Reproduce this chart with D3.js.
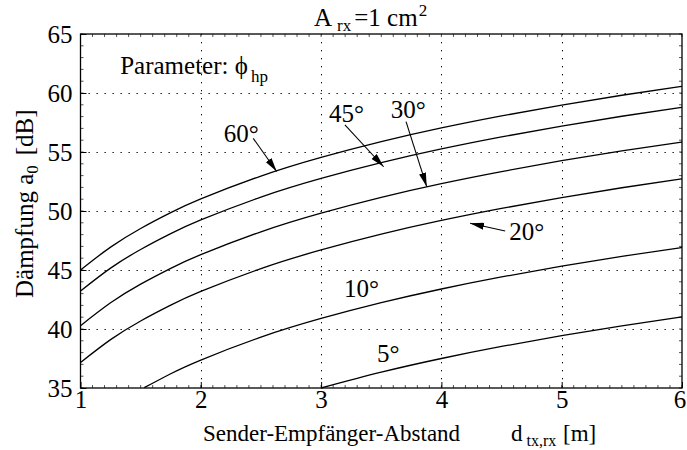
<!DOCTYPE html>
<html>
<head>
<meta charset="utf-8">
<script src="https://cdn.jsdelivr.net/npm/d3@7"></script>
<style>
  html, body { margin: 0; padding: 0; background: #fff; }
  svg text { font-family: "Liberation Serif", "Times New Roman", "DejaVu Serif", serif; }
</style>
</head>
<body>
<svg id="chart" width="687" height="450"></svg>
<script>
// Distance grid (m) shared by the upper four curves
const dist = [1, 1.25, 1.5, 1.75, 2, 2.5, 3, 3.5, 4, 4.5, 5, 5.5, 6];
// Attenuation a0 (dB) for each half-power angle
const a60 = [45.00, 46.94, 48.52, 49.86, 51.02, 52.96, 54.54, 55.88, 57.04, 58.06, 58.98, 59.81, 60.56];
const a45 = [43.22, 45.16, 46.74, 48.08, 49.24, 51.18, 52.76, 54.10, 55.26, 56.28, 57.20, 58.03, 58.78];
const a30 = [40.28, 42.22, 43.80, 45.14, 46.30, 48.24, 49.82, 51.16, 52.32, 53.34, 54.26, 55.09, 55.84];
const a20 = [37.16, 39.10, 40.68, 42.02, 43.18, 45.12, 46.70, 48.04, 49.20, 50.22, 51.14, 51.97, 52.72];
// The two narrow beams enter the visible range later
const dist10 = [1.53, 1.75, 2, 2.5, 3, 3.5, 4, 4.5, 5, 5.5, 6];
const a10 = [35.03, 36.21, 37.37, 39.31, 40.89, 42.23, 43.39, 44.41, 45.33, 46.16, 46.91];
const dist5 = [3, 3.5, 4, 4.5, 5, 5.5, 6];
const a5 = [35.00, 36.34, 37.50, 38.52, 39.44, 40.27, 41.02];

const xTicks = [1, 2, 3, 4, 5, 6];
const yTicks = [35, 40, 45, 50, 55, 60, 65];

// Curve labels: text anchor and optional arrow (data units)
const labels = [
  { text: "60°", x: 2.19, y: 55.85, arrow: [[2.436, 56.16], [2.631, 53.35]] },
  { text: "45°", x: 3.065, y: 57.57, arrow: [[3.198, 57.29], [3.52, 53.75]] },
  { text: "30°", x: 3.58, y: 57.86, arrow: [[3.706, 57.57], [3.878, 52.06]] },
  { text: "20°", x: 4.565, y: 47.54, arrow: [[4.53, 48.31], [4.238, 48.96]] },
  { text: "10°", x: 3.19, y: 42.74, arrow: null },
  { text: "5°", x: 3.465, y: 37.23, arrow: null }
];

const series = [
  { d: dist, a: a60 }, { d: dist, a: a45 }, { d: dist, a: a30 },
  { d: dist, a: a20 }, { d: dist10, a: a10 }, { d: dist5, a: a5 }
];

const SERIF = "Liberation Serif, Times New Roman, serif";
const svg = d3.select("#chart");
const pLeft = 80.5, pRight = 682, pTop = 34, pBottom = 388;
const fs = 25, fsAxis = 23, fsSub = 16;

const x = d3.scaleLinear().domain([1, 6]).range([pLeft, pRight]);
const y = d3.scaleLinear().domain([35, 65]).range([pBottom, pTop]);

svg.append("defs").append("marker")
  .attr("id", "head").attr("viewBox", "0 0 14 7")
  .attr("refX", 14).attr("refY", 3.5)
  .attr("markerWidth", 14).attr("markerHeight", 7)
  .attr("markerUnits", "userSpaceOnUse")
  .attr("orient", "auto")
  .append("path").attr("d", "M0,0 L14,3.5 L0,7 Z").attr("fill", "#000");

// Dotted grid
const grid = svg.append("g").attr("stroke", "#000").attr("stroke-width", 1)
  .attr("stroke-dasharray", "1.3,6.7");
grid.selectAll(".gx").data(xTicks.slice(1, -1)).join("line")
  .attr("x1", d => Math.round(x(d)) + 0.5).attr("x2", d => Math.round(x(d)) + 0.5)
  .attr("y1", pTop).attr("y2", pBottom);
grid.selectAll(".gy").data(yTicks.slice(1, -1)).join("line")
  .attr("y1", d => Math.round(y(d)) + 0.5).attr("y2", d => Math.round(y(d)) + 0.5)
  .attr("x1", pLeft).attr("x2", pRight);

// Minor ticks, pointing inward on every side
const minor = svg.append("g").attr("stroke", "#555").attr("stroke-width", 1);
const xMinor = d3.range(1, 6.0001, 0.1);
const yMinor = d3.range(35, 65.0001, 1);
minor.selectAll(".mt").data(xMinor).join("line")
  .attr("x1", d => x(d)).attr("x2", d => x(d)).attr("y1", pTop).attr("y2", pTop + 3);
minor.selectAll(".mb").data(xMinor).join("line")
  .attr("x1", d => x(d)).attr("x2", d => x(d)).attr("y1", pBottom).attr("y2", pBottom - 3);
minor.selectAll(".ml").data(yMinor).join("line")
  .attr("y1", d => y(d)).attr("y2", d => y(d)).attr("x1", pLeft).attr("x2", pLeft + 3);
minor.selectAll(".mr").data(yMinor).join("line")
  .attr("y1", d => y(d)).attr("y2", d => y(d)).attr("x1", pRight).attr("x2", pRight - 3);

// Axes via d3-axis with inward major ticks
const xAxis = d3.axisBottom(x).tickValues(xTicks).tickSize(-6).tickPadding(3).tickFormat(d3.format("d"));
const yAxis = d3.axisLeft(y).tickValues(yTicks).tickSize(-6).tickPadding(8).tickFormat(d3.format("d"));
const gx = svg.append("g").attr("transform", `translate(0,${pBottom})`).call(xAxis);
const gy = svg.append("g").attr("transform", `translate(${pLeft},0)`).call(yAxis);
[gx, gy].forEach(g => {
  g.attr("font-family", SERIF).attr("font-size", fs);
  g.select(".domain").remove();
  g.selectAll("line").attr("stroke", "#000");
  g.selectAll("text").attr("fill", "#000");
});
gx.selectAll("text").attr("dy", "0.68em");
// keep the last x label inside the canvas
gx.selectAll("text").filter(d => d === xTicks[xTicks.length - 1]).attr("dx", -2.5);

// Plot frame
svg.append("rect").attr("x", pLeft).attr("y", pTop)
  .attr("width", pRight - pLeft).attr("height", pBottom - pTop)
  .attr("fill", "none").attr("stroke", "#000").attr("stroke-width", 1.3);

// Curves
const line = d3.line().x(p => x(p[0])).y(p => y(p[1])).curve(d3.curveNatural);
svg.append("g").selectAll("path").data(series).join("path")
  .attr("d", s => line(s.d.map((d, i) => [d, s.a[i]])))
  .attr("fill", "none").attr("stroke", "#000").attr("stroke-width", 1.3);

// Curve labels and arrows
const ann = svg.append("g").attr("font-family", SERIF);
ann.selectAll("text").data(labels).join("text")
  .attr("x", d => x(d.x)).attr("y", d => y(d.y))
  .attr("font-size", fs).text(d => d.text);
ann.selectAll("line").data(labels.filter(d => d.arrow)).join("line")
  .attr("x1", d => x(d.arrow[0][0])).attr("y1", d => y(d.arrow[0][1]))
  .attr("x2", d => x(d.arrow[1][0])).attr("y2", d => y(d.arrow[1][1]))
  .attr("stroke", "#000").attr("stroke-width", 1.1).attr("marker-end", "url(#head)");

// Parameter note
const pt = svg.append("text").attr("x", x(1.33)).attr("y", y(61.6)).attr("font-size", fs);
pt.append("tspan").text("Parameter: ");
pt.append("tspan").text("ϕ");
pt.append("tspan").attr("dx", 3).attr("dy", 8).attr("font-size", fsSub + 1).text("hp");

// Title
const tt = svg.append("text").attr("x", 314).attr("y", 26).attr("font-size", fs);
tt.append("tspan").text("A");
tt.append("tspan").attr("dx", 5).attr("dy", 5).attr("font-size", fsSub + 1).text("rx");
tt.append("tspan").attr("dx", 3).attr("dy", -5).text("=1 cm");
tt.append("tspan").attr("dx", 1).attr("dy", -10).attr("font-size", fsSub + 1).text("2");

// X-axis label
const xl = svg.append("text").attr("x", 203).attr("y", 441).attr("font-size", fsAxis);
xl.append("tspan").text("Sender-Empfänger-Abstand");
xl.append("tspan").attr("x", 511).text("d");
xl.append("tspan").attr("dx", 4).attr("dy", 5).attr("font-size", fsSub).text("tx,rx");
xl.append("tspan").attr("x", 563).attr("dy", -5).text("[m]");

// Y-axis label
const yl = svg.append("text").attr("transform", "translate(33,298) rotate(-90)").attr("font-size", fs);
yl.append("tspan").text("Dämpfung a");
yl.append("tspan").attr("dy", 5).attr("font-size", fsSub + 1).text("0");
yl.append("tspan").attr("dx", 10).attr("dy", -5).text("[dB]");
</script>
</body>
</html>
